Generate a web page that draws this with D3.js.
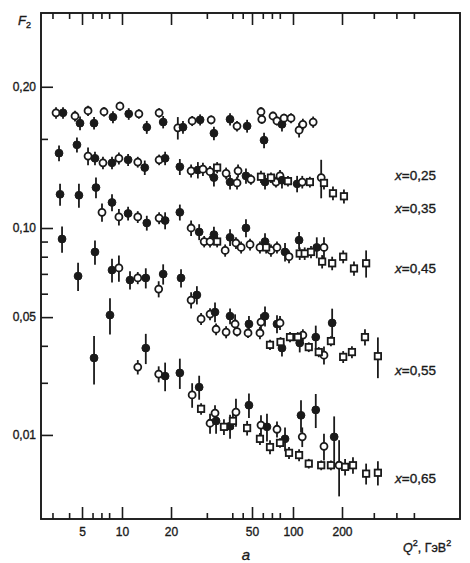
<!DOCTYPE html>
<html lang="ru">
<head>
<meta charset="UTF-8">
<title>F2 vs Q2</title>
<script src="https://cdn.jsdelivr.net/npm/d3@7"></script>
<style>
    body { margin: 0; background: #fff; }
    svg { display: block; }
    text { font-family: "Liberation Sans", Arial, sans-serif; fill: #1a1a1a; stroke: #1a1a1a; stroke-width: 0.35; }
    .tick line { stroke: #1a1a1a; stroke-width: 1.6; }
    .tick text { font-size: 12px; }
    .frame { fill: none; stroke: #1a1a1a; stroke-width: 1.9; }
    .err { stroke: #1a1a1a; stroke-width: 1.8; }
    .pt-f { fill: #1a1a1a; stroke: #1a1a1a; stroke-width: 1; }
    .pt-o, .pt-s { fill: #fff; stroke: #1a1a1a; stroke-width: 1.8; }
    .series-label { font-size: 13.5px; }
</style>
</head>
<body>
<div id="chart"></div>
<script>
// [Q2, F2, error, marker]  f = filled circle, o = open circle, s = open square
var s25 = [
    [3.19, 0.245, 0.011, "o"], [3.60, 0.245, 0.011, "f"], [4.43, 0.239, 0.010, "o"], [4.83, 0.226, 0.012, "f"],
    [5.55, 0.249, 0.010, "o"], [6.16, 0.226, 0.011, "f"], [7.32, 0.247, 0.009, "o"], [8.55, 0.237, 0.011, "f"],
    [9.65, 0.258, 0.009, "o"], [11.0, 0.243, 0.011, "f"], [12.7, 0.243, 0.009, "o"], [14.2, 0.219, 0.011, "f"],
    [16.9, 0.245, 0.009, "o"], [17.9, 0.228, 0.011, "f"], [21.6, 0.218, 0.019, "o"], [22.9, 0.219, 0.011, "f"],
    [25.4, 0.230, 0.009, "o"], [27.8, 0.232, 0.010, "f"], [31.5, 0.232, 0.008, "o"], [32.5, 0.209, 0.011, "f"],
    [39.0, 0.233, 0.011, "f"], [42.2, 0.221, 0.009, "o"], [47.3, 0.221, 0.011, "f"], [58.2, 0.247, 0.009, "o"],
    [59.0, 0.233, 0.008, "o"], [61.3, 0.198, 0.012, "f"], [71.3, 0.239, 0.008, "o"], [76.3, 0.230, 0.008, "o"],
    [83.0, 0.224, 0.012, "f"], [85.9, 0.235, 0.008, "o"], [96.7, 0.235, 0.009, "o"], [109, 0.214, 0.012, "o"],
    [115, 0.224, 0.010, "o"], [133, 0.228, 0.010, "o"]
];
var s35 = [
    [3.36, 0.179, 0.011, "f"], [4.58, 0.191, 0.011, "f"], [5.55, 0.175, 0.012, "o"], [6.26, 0.172, 0.009, "f"],
    [7.19, 0.166, 0.008, "o"], [8.41, 0.166, 0.008, "f"], [9.48, 0.172, 0.008, "o"], [10.9, 0.170, 0.008, "f"],
    [12.5, 0.167, 0.007, "o"], [13.8, 0.160, 0.009, "f"], [16.9, 0.170, 0.007, "o"], [18.4, 0.172, 0.009, "f"],
    [22.1, 0.161, 0.010, "f"], [25.1, 0.156, 0.008, "o"], [27.1, 0.157, 0.010, "f"], [28.7, 0.158, 0.008, "o"],
    [31.1, 0.155, 0.007, "o"], [32.5, 0.148, 0.010, "f"], [33.7, 0.160, 0.007, "s"], [37.3, 0.153, 0.007, "o"],
    [39.0, 0.143, 0.008, "f"], [42.7, 0.156, 0.008, "o"], [42.2, 0.142, 0.007, "o"], [46.7, 0.150, 0.009, "f"],
    [49.4, 0.146, 0.006, "o"], [58.2, 0.149, 0.007, "s"], [62.3, 0.143, 0.008, "f"], [68.9, 0.148, 0.006, "s"],
    [75.0, 0.143, 0.006, "o"], [80.3, 0.150, 0.007, "o"], [83.0, 0.145, 0.009, "f"], [91.9, 0.144, 0.006, "s"],
    [106, 0.141, 0.009, "f"], [114, 0.143, 0.007, "o"], [127, 0.143, 0.006, "s"], [149, 0.148, 0.022, "o"],
    [155, 0.142, 0.007, "s"], [176, 0.131, 0.007, "s"], [205, 0.128, 0.007, "s"]
];
var s45 = [
    [3.42, 0.130, 0.011, "f"], [4.74, 0.129, 0.012, "f"], [6.37, 0.137, 0.011, "f"], [7.07, 0.113, 0.008, "o"],
    [8.41, 0.122, 0.008, "f"], [9.48, 0.109, 0.007, "o"], [10.9, 0.112, 0.006, "f"], [12.5, 0.109, 0.005, "o"],
    [14.2, 0.104, 0.006, "f"], [16.9, 0.108, 0.005, "o"], [18.4, 0.106, 0.007, "f"], [22.1, 0.113, 0.007, "f"],
    [25.1, 0.100, 0.006, "o"], [27.5, 0.097, 0.006, "f"], [29.1, 0.090, 0.004, "o"], [31.1, 0.090, 0.004, "o"],
    [32.5, 0.095, 0.006, "f"], [33.7, 0.090, 0.004, "s"], [36.9, 0.084, 0.004, "o"], [39.0, 0.093, 0.006, "f"],
    [41.7, 0.089, 0.004, "o"], [44.2, 0.086, 0.004, "o"], [46.7, 0.100, 0.007, "f"], [48.9, 0.088, 0.004, "o"],
    [57.2, 0.086, 0.004, "o"], [62.3, 0.090, 0.006, "f"], [63.5, 0.086, 0.004, "s"], [68.9, 0.084, 0.004, "o"],
    [76.3, 0.086, 0.004, "o"], [87.4, 0.083, 0.006, "f"], [93.5, 0.080, 0.004, "o"], [109, 0.091, 0.006, "f"],
    [110, 0.082, 0.004, "s"], [118, 0.082, 0.004, "s"], [129, 0.083, 0.004, "s"], [140, 0.086, 0.007, "f"],
    [155, 0.086, 0.007, "o"], [151, 0.077, 0.004, "s"], [174, 0.076, 0.004, "s"], [203, 0.080, 0.004, "s"],
    [233, 0.073, 0.004, "s"], [272, 0.076, 0.008, "s"]
];
var s55 = [
    [3.54, 0.0918, 0.0093, "f"], [4.67, 0.0688, 0.0075, "f"], [6.26, 0.0830, 0.0078, "f"], [8.41, 0.0721, 0.0067, "f"],
    [9.48, 0.0733, 0.0074, "o"], [11.2, 0.0667, 0.0047, "f"], [12.5, 0.0678, 0.0032, "o"], [14.0, 0.0678, 0.0053, "f"],
    [16.8, 0.0622, 0.0039, "o"], [17.9, 0.0699, 0.0055, "f"], [22.4, 0.0678, 0.0048, "f"], [25.1, 0.0571, 0.0036, "o"],
    [26.8, 0.0594, 0.0042, "f"], [28.1, 0.0493, 0.0023, "o"], [31.1, 0.0512, 0.0024, "o"], [32.9, 0.0520, 0.0040, "f"],
    [33.3, 0.0455, 0.0021, "o"], [37.3, 0.0445, 0.0021, "o"], [39.0, 0.0504, 0.0031, "f"], [41.3, 0.0474, 0.0037, "o"],
    [42.2, 0.0447, 0.0017, "o"], [47.8, 0.0442, 0.0017, "o"], [48.3, 0.0474, 0.0030, "f"], [57.2, 0.0442, 0.0021, "o"],
    [58.2, 0.0481, 0.0030, "o"], [62.3, 0.0504, 0.0039, "f"], [67.8, 0.0403, 0.0016, "s"], [76.3, 0.0474, 0.0033, "f"],
    [80.3, 0.0478, 0.0026, "o"], [81.0, 0.0412, 0.0016, "s"], [83.0, 0.0393, 0.0025, "f"], [95.1, 0.0428, 0.0017, "s"],
    [107, 0.0428, 0.0017, "s"], [110, 0.0409, 0.0029, "f"], [115, 0.0435, 0.0020, "o"], [125, 0.0396, 0.0015, "s"],
    [138, 0.0428, 0.0040, "f"], [144, 0.0381, 0.0015, "s"], [155, 0.0372, 0.0026, "o"], [171, 0.0415, 0.0016, "s"],
    [174, 0.0478, 0.0056, "f"], [203, 0.0367, 0.0017, "s"], [227, 0.0381, 0.0018, "s"], [268, 0.0428, 0.0027, "s"],
    [316, 0.0369, 0.0058, "s"]
];
var s65 = [
    [6.16, 0.0364, 0.0068, "f"], [8.12, 0.0508, 0.0071, "f"], [12.5, 0.0339, 0.0019, "o"], [14.0, 0.0393, 0.0046, "f"],
    [16.8, 0.0321, 0.0020, "o"], [18.4, 0.0316, 0.0035, "f"], [22.1, 0.0324, 0.0038, "f"], [25.4, 0.0273, 0.0026, "o"],
    [27.5, 0.0290, 0.0027, "f"], [28.1, 0.0245, 0.0011, "s"], [31.1, 0.0219, 0.0017, "o"], [32.9, 0.0237, 0.0015, "o"],
    [33.3, 0.0223, 0.0021, "f"], [36.4, 0.0213, 0.0013, "s"], [39.0, 0.0214, 0.0020, "f"], [40.3, 0.0223, 0.0014, "s"],
    [41.7, 0.0239, 0.0026, "o"], [47.3, 0.0211, 0.0012, "s"], [48.3, 0.0252, 0.0024, "f"], [57.2, 0.0194, 0.0009, "s"],
    [58.2, 0.0216, 0.0017, "o"], [64.4, 0.0213, 0.0023, "f"], [67.8, 0.0182, 0.0010, "s"], [76.3, 0.0209, 0.0013, "o"],
    [80.3, 0.0188, 0.0007, "s"], [87.4, 0.0194, 0.0018, "f"], [93.5, 0.0174, 0.0008, "s"], [109, 0.0171, 0.0008, "s"],
    [112, 0.0233, 0.0029, "f"], [114, 0.0197, 0.0015, "o"], [125, 0.0160, 0.0006, "s"], [138, 0.0243, 0.0032, "f"],
    [149, 0.0158, 0.0006, "s"], [155, 0.0183, 0.0019, "o"], [171, 0.0158, 0.0006, "s"], [179, 0.0197, 0.0034, "f"],
    [192, 0.0158, 0.0034, "o"], [208, 0.0156, 0.0010, "s"], [230, 0.0158, 0.0010, "s"], [272, 0.0148, 0.0012, "s"],
    [316, 0.0149, 0.0014, "s"]
];

var seriesList = [s25, s35, s45, s55, s65];
var seriesNames = ["0,25", "0,35", "0,45", "0,55", "0,65"];
var seriesLabelLevel = [0.151, 0.117, 0.0733, 0.0331, 0.0143];

var xMajorTicks = [5, 10, 20, 50, 100, 200];
var xMinorTicks = [3, 4, 6, 7, 8, 30, 40, 45, 60, 70, 80, 300, 400, 500];
var yMajorTicks = [0.3, 0.1, 0.05, 0.02];
var yMajorLabels = ["0,20", "0,10", "0,05", "0,01"];
var yMinorTicks = [0.2, 0.09, 0.08, 0.07, 0.06, 0.04, 0.03];

var width = 470, height = 563;
var margin = { top: 13, right: 10, bottom: 44, left: 41 };
var w = width - margin.left - margin.right;
var h = height - margin.top - margin.bottom;

// the printed Q2 axis is not evenly spaced, so the log scale is piecewise
var xBreaks = [2.46, 5, 10, 20, 50, 100, 200, 900];
var xBreakFrac = [0, 0.0979, 0.1933, 0.3103, 0.5036, 0.6014, 0.7184, 1];

var x = d3.scaleLog()
    .domain(xBreaks)
    .range(xBreakFrac.map(function(f) { return f * w; }));
var y = d3.scaleLog()
    .domain([0.0104, 0.5325])
    .range([h, 0]);

var svg = d3.select("#chart").append("svg")
    .attr("width", width)
    .attr("height", height);
var g = svg.append("g")
    .attr("transform", "translate(" + margin.left + "," + margin.top + ")");

function fmtY(d) {
    return yMajorLabels[yMajorTicks.indexOf(d)];
}

// axes, ticks pointing into the plot
g.append("g").attr("transform", "translate(0," + h + ")")
    .call(d3.axisBottom(x).tickValues(xMajorTicks).tickFormat(d3.format("d")).tickSize(-12).tickSizeOuter(0).tickPadding(8));
g.append("g").attr("transform", "translate(0," + h + ")")
    .call(d3.axisBottom(x).tickValues(xMinorTicks).tickFormat("").tickSize(-6).tickSizeOuter(0));
g.append("g")
    .call(d3.axisTop(x).tickValues(xMajorTicks).tickFormat("").tickSize(-12).tickSizeOuter(0));
g.append("g")
    .call(d3.axisTop(x).tickValues(xMinorTicks).tickFormat("").tickSize(-6).tickSizeOuter(0));
g.append("g")
    .call(d3.axisLeft(y).tickValues(yMajorTicks).tickFormat(fmtY).tickSize(-12).tickSizeOuter(0).tickPadding(5));
g.append("g")
    .call(d3.axisLeft(y).tickValues(yMinorTicks).tickFormat("").tickSize(-7).tickSizeOuter(0));
g.selectAll(".domain").remove();
g.selectAll(".tick text").attr("fill", "#1a1a1a");

g.append("rect").attr("class", "frame")
    .attr("width", w).attr("height", h);

// data
seriesList.forEach(function(series, si) {
    var sg = g.append("g");
    sg.selectAll(".err")
        .data(series)
        .enter().append("line")
        .attr("class", "err")
        .attr("x1", function(d) { return x(d[0]); })
        .attr("x2", function(d) { return x(d[0]); })
        .attr("y1", function(d) { return y(d[1] - d[2]); })
        .attr("y2", function(d) { return y(d[1] + d[2]); });

    sg.selectAll(".pt-c")
        .data(series.filter(function(d) { return d[3] != "s"; }))
        .enter().append("circle")
        .attr("class", function(d) { return "pt-" + d[3]; })
        .attr("cx", function(d) { return x(d[0]); })
        .attr("cy", function(d) { return y(d[1]); })
        .attr("r", function(d) { return d[3] == "f" ? 3.9 : 3.5; });

    sg.selectAll(".pt-s")
        .data(series.filter(function(d) { return d[3] == "s"; }))
        .enter().append("rect")
        .attr("class", "pt-s")
        .attr("x", function(d) { return x(d[0]) - 3.2; })
        .attr("y", function(d) { return y(d[1]) - 3.2; })
        .attr("width", 6.4)
        .attr("height", 6.4);

    var lbl = g.append("text")
        .attr("class", "series-label")
        .attr("x", w - 65)
        .attr("y", y(seriesLabelLevel[si]))
        .attr("dy", "0.35em");
    lbl.append("tspan").attr("font-style", "italic").text("x");
    lbl.append("tspan").text("=" + seriesNames[si]);
});

// axis titles
var fl = svg.append("text").attr("x", 18).attr("y", 25).attr("font-size", 13);
fl.append("tspan").attr("font-style", "italic").text("F");
fl.append("tspan").attr("font-size", 9).attr("dy", 3).text("2");

svg.append("text")
    .attr("x", x(20) + margin.left + 75).attr("y", height - 3)
    .attr("font-size", 15).attr("font-style", "italic")
    .attr("text-anchor", "middle").text("a");

var ql = svg.append("text").attr("x", 403).attr("y", 552).attr("font-size", 12.5);
ql.append("tspan").attr("font-style", "italic").text("Q");
ql.append("tspan").attr("font-size", 9).attr("dy", -6).text("2");
ql.append("tspan").attr("dy", 6).text(", ГэВ");
ql.append("tspan").attr("font-size", 9).attr("dy", -6).text("2");
</script>
</body>
</html>
